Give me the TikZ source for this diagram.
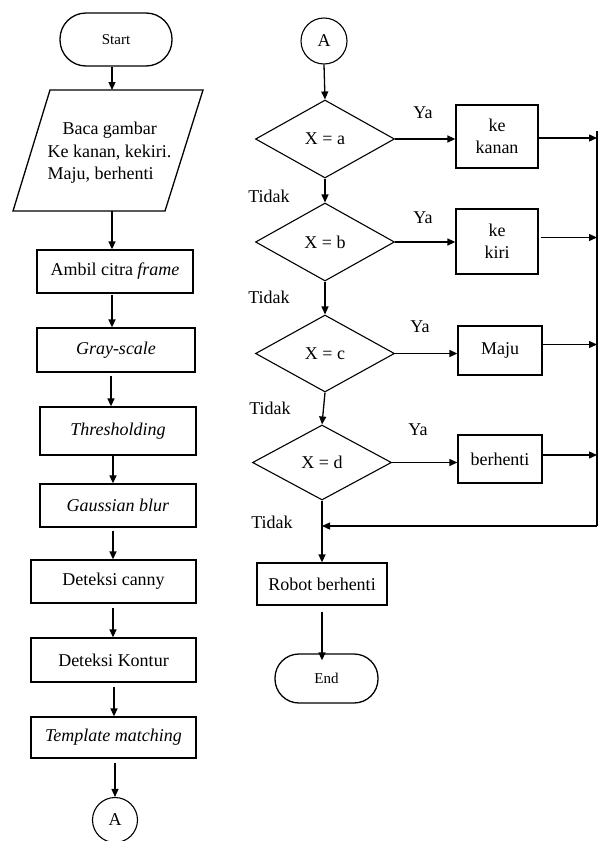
\documentclass[tikz,border=0pt]{standalone}
\usepackage{fontspec}
\setmainfont{Liberation Serif}
\usetikzlibrary{shapes.geometric,arrows.meta}
\begin{document}
\begin{tikzpicture}[x=1pt,y=-1pt,
 every node/.style={font=\fontsize{18}{22.5}\selectfont},
 box/.style={draw, line width=1.3pt, inner sep=0pt, align=center},
 term/.style={draw, line width=1.3pt, inner sep=0pt, font=\fontsize{15}{18}\selectfont},
 dec/.style={draw, diamond, line width=1.1pt, inner sep=0pt},
 conn/.style={draw, circle, line width=1.1pt, inner sep=0pt},
 arr/.style={line width=1.3pt, -{Triangle[length=8pt,width=7pt]}},
 ln/.style={line width=1.3pt},
 lbl/.style={inner sep=0pt}]
\useasboundingbox[fill=white] (0,0) rectangle (598,841);

% ---- left column ----
\node[term, rounded corners=26pt, minimum width=112pt, minimum height=53pt] (start) at (116,39.5) {Start};
\coordinate (pT) at (112,90);
\coordinate (pB) at (112,211);
\draw[ln] (50,90) -- (203,90) -- (165,211) -- (13,211) -- cycle;
\node[lbl, align=left] (baca) at (109.5,153) {\hspace*{15pt}Baca gambar\\Ke kanan, kekiri.\\Maju, berhenti};
\node[box, minimum width=156pt, minimum height=43pt] (ambil) at (115,271.5) {Ambil citra \textit{frame}};
\node[box, minimum width=158pt, minimum height=44pt] (gray) at (116,350) {\textit{Gray-scale}};
\node[box, minimum width=156pt, minimum height=48pt] (thresh) at (118,431) {\textit{Thresholding}};
\node[box, minimum width=156pt, minimum height=43pt] (gauss) at (118,505.5) {\textit{Gaussian blur}};
\node[box, minimum width=165pt, minimum height=43pt] (canny) at (113.5,581.5) {Deteksi canny};
\node[box, minimum width=165pt, minimum height=44pt] (kontur) at (113.5,660) {Deteksi Kontur};
\node[box, minimum width=165pt, minimum height=41pt] (templ) at (113.5,737.5) {\textit{Template matching}};
\node[conn, minimum size=45pt] (a1) at (115,820) {A};

\draw[arr] (start.south -| pT) -- (pT);
\draw[arr] (pB) -- (pB |- ambil.north);
\draw[arr] ([yshift=-1pt]ambil.south -| 112,0) -- (gray.north -| 112,0);
\draw[arr] ([yshift=-3pt]gray.south -| 111,0) -- (thresh.north -| 111,0);
\draw[arr] (thresh.south -| 113,0) -- (gauss.north -| 113,0);
\draw[arr] ([yshift=-3pt]gauss.south -| 113,0) -- (canny.north -| 113,0);
\draw[arr] ([yshift=-4pt]canny.south -| 113,0) -- (kontur.north -| 113,0);
\draw[arr] ([yshift=-4pt]kontur.south -| 114,0) -- (templ.north -| 114,0);
\draw[arr] ([yshift=-4pt]templ.south -| 115,0) -- (a1.north);

% ---- right column ----
\node[conn, minimum size=46pt] (a2) at (324,41) {A};
\node[dec, minimum width=139pt, minimum height=78pt] (dA) at (325,139) {X = a};
\node[dec, minimum width=139pt, minimum height=78pt] (dB) at (325,242) {X = b};
\node[dec, minimum width=139pt, minimum height=77pt] (dC) at (325,353.5) {X = c};
\node[dec, minimum width=139pt, minimum height=75pt] (dD) at (322,462.5) {X = d};

\node[box, minimum width=82pt, minimum height=63pt] (kanan) at (497,136.5) {ke\\kanan};
\node[box, minimum width=82pt, minimum height=65pt] (kiri) at (497,241.5) {ke\\kiri};
\node[box, minimum width=84pt, minimum height=49pt] (maju) at (500,350.5) {Maju};
\node[box, minimum width=84pt, minimum height=48pt] (berh) at (500,459) {berhenti};
\node[box, minimum width=130pt, minimum height=42pt] (robot) at (322,584) {Robot berhenti};
\node[term, rounded corners=24pt, minimum width=103pt, minimum height=49pt] (endn) at (326.5,678.5) {End};

\node[lbl] (ya1) at (423,113) {Ya};
\node[lbl] (ya2) at (423,218) {Ya};
\node[lbl] (ya3) at (420,327) {Ya};
\node[lbl] (ya4) at (418,430) {Ya};
\node[lbl] (td1) at (269,196) {Tidak};
\node[lbl] (td2) at (269,297) {Tidak};
\node[lbl] (td3) at (270,408) {Tidak};
\node[lbl] (td4) at (272,522) {Tidak};

\coordinate (rtop) at (597,131);
\coordinate (rbot) at (597,526);
\coordinate (join) at (322,526);

\draw[arr] (a2.south) -- (dA.north);
\draw[arr] (dA.south) -- (dB.north);
\draw[arr] (dB.south) -- (dC.north);
\draw[arr] (dC.south) -- (dD.north);
\draw[arr] (dA.east) -- (dA.east -| kanan.west);
\draw[arr] (dB.east) -- (dB.east -| kiri.west);
\draw[arr] (dC.east) -- (dC.east -| maju.west);
\draw[arr] (dD.east) -- (dD.east -| berh.west);
\draw[arr] ([yshift=-1.5pt]kanan.east) -- ([yshift=-1.5pt]kanan.east -| rtop);
\draw[arr] ([xshift=2pt,yshift=4pt]kiri.east) -- ([yshift=4pt]kiri.east -| rtop);
\draw[arr] ([yshift=6pt]maju.east) -- ([yshift=6pt]maju.east -| rtop);
\draw[arr] ([yshift=4pt]berh.east) -- ([yshift=4pt]berh.east -| rtop);
\draw[ln] (rtop) -- (rbot);
\draw[arr] (rbot) -- (join);
\draw[arr] (dD.south) -- (robot.north);
\draw[arr] ([yshift=-6pt]robot.south) -- ([yshift=-7pt]robot.south |- endn.north);
\end{tikzpicture}
\end{document}
